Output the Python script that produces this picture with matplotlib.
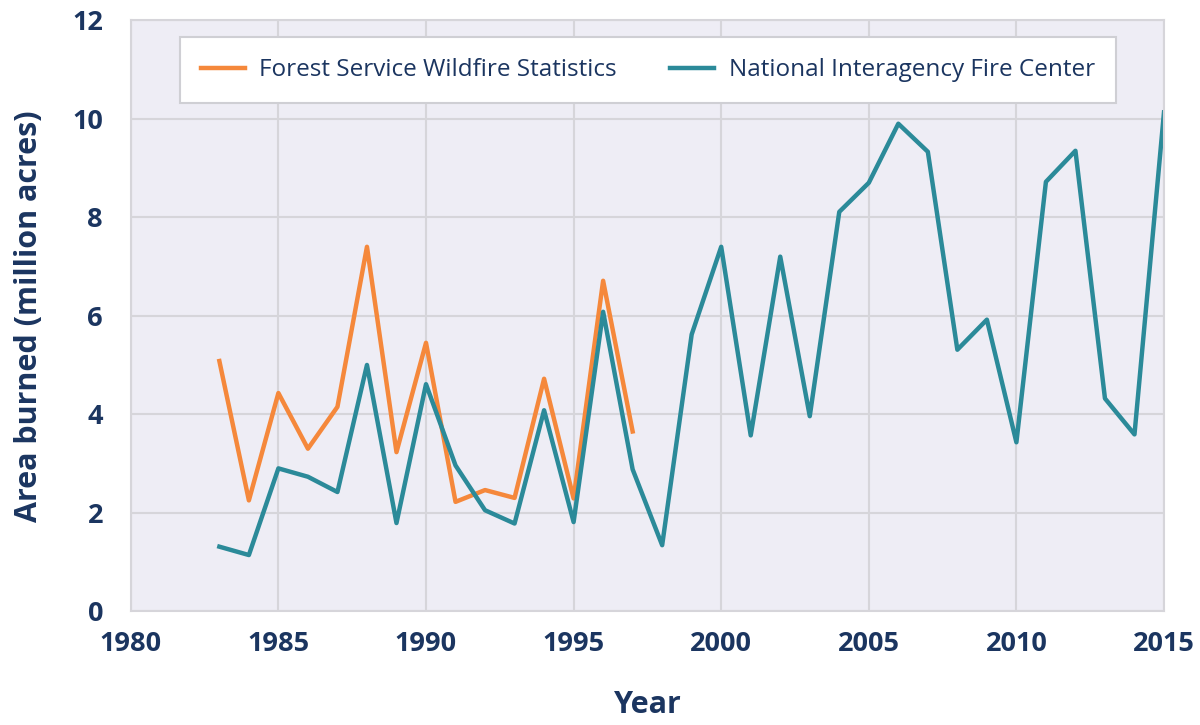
import matplotlib
matplotlib.use("Agg")
import matplotlib.pyplot as plt

# data (million acres)
fs_years = list(range(1983, 1998))
fs_area = [5.08, 2.25, 4.43, 3.30, 4.15, 7.40, 3.23, 5.45, 2.22, 2.46, 2.30, 4.72, 2.29, 6.71, 3.65]

nifc_years = list(range(1983, 2016))
nifc_area = [1.31, 1.14, 2.90, 2.73, 2.42, 5.00, 1.79, 4.61, 2.96, 2.05, 1.78, 4.08, 1.81, 6.08,
             2.88, 1.34, 5.62, 7.40, 3.57, 7.20, 3.96, 8.11, 8.70, 9.90, 9.33, 5.31, 5.92, 3.43,
             8.72, 9.35, 4.32, 3.59, 10.13]

x_ticks = [1980, 1985, 1990, 1995, 2000, 2005, 2010, 2015]
y_ticks = [0, 2, 4, 6, 8, 10, 12]

navy = "#1b3560"
orange = "#f5883b"
teal = "#2b8a99"

plt.rcParams['font.family'] = ['Open Sans', 'DejaVu Sans']

fig = plt.figure(figsize=(12, 7.25), dpi=100)
ax = fig.add_axes([0.109, 0.157, 0.861, 0.815])
ax.set_facecolor("#eeedf5")

ax.plot(fs_years, fs_area, color=orange, lw=3.2, label="Forest Service Wildfire Statistics")
ax.plot(nifc_years, nifc_area, color=teal, lw=3.2, label="National Interagency Fire Center")

ax.set_xlim(1980, 2015)
ax.set_ylim(0, 12)
ax.set_xticks(x_ticks)
ax.set_yticks(y_ticks)
ax.grid(True, color="#d6d5da", lw=1.5)
ax.set_axisbelow(True)
for s in ax.spines.values():
    s.set_color("#d6d5da")
    s.set_linewidth(1.5)
ax.tick_params(length=0, pad=14, labelsize=19.5, labelcolor=navy)
for lab in ax.get_xticklabels() + ax.get_yticklabels():
    lab.set_fontweight("bold")
ax.tick_params(axis="y", pad=20)

ax.set_xlabel("Year", fontsize=22, fontweight="bold", color=navy, labelpad=24)
ax.set_ylabel("Area burned (million acres)", fontsize=22, fontweight="bold", color=navy, labelpad=20)

leg = ax.legend(loc="upper left", bbox_to_anchor=(0.048, 0.971), borderaxespad=0, ncol=2,
                fontsize=17.5, frameon=True, fancybox=False, edgecolor="#cfcfd4", framealpha=1,
                handlelength=1.8, columnspacing=2.2, borderpad=0.85, handletextpad=0.6)
leg.get_frame().set_linewidth(1.5)
for t in leg.get_texts():
    t.set_color(navy)

fig.savefig("out.png", dpi=100, facecolor="white")
